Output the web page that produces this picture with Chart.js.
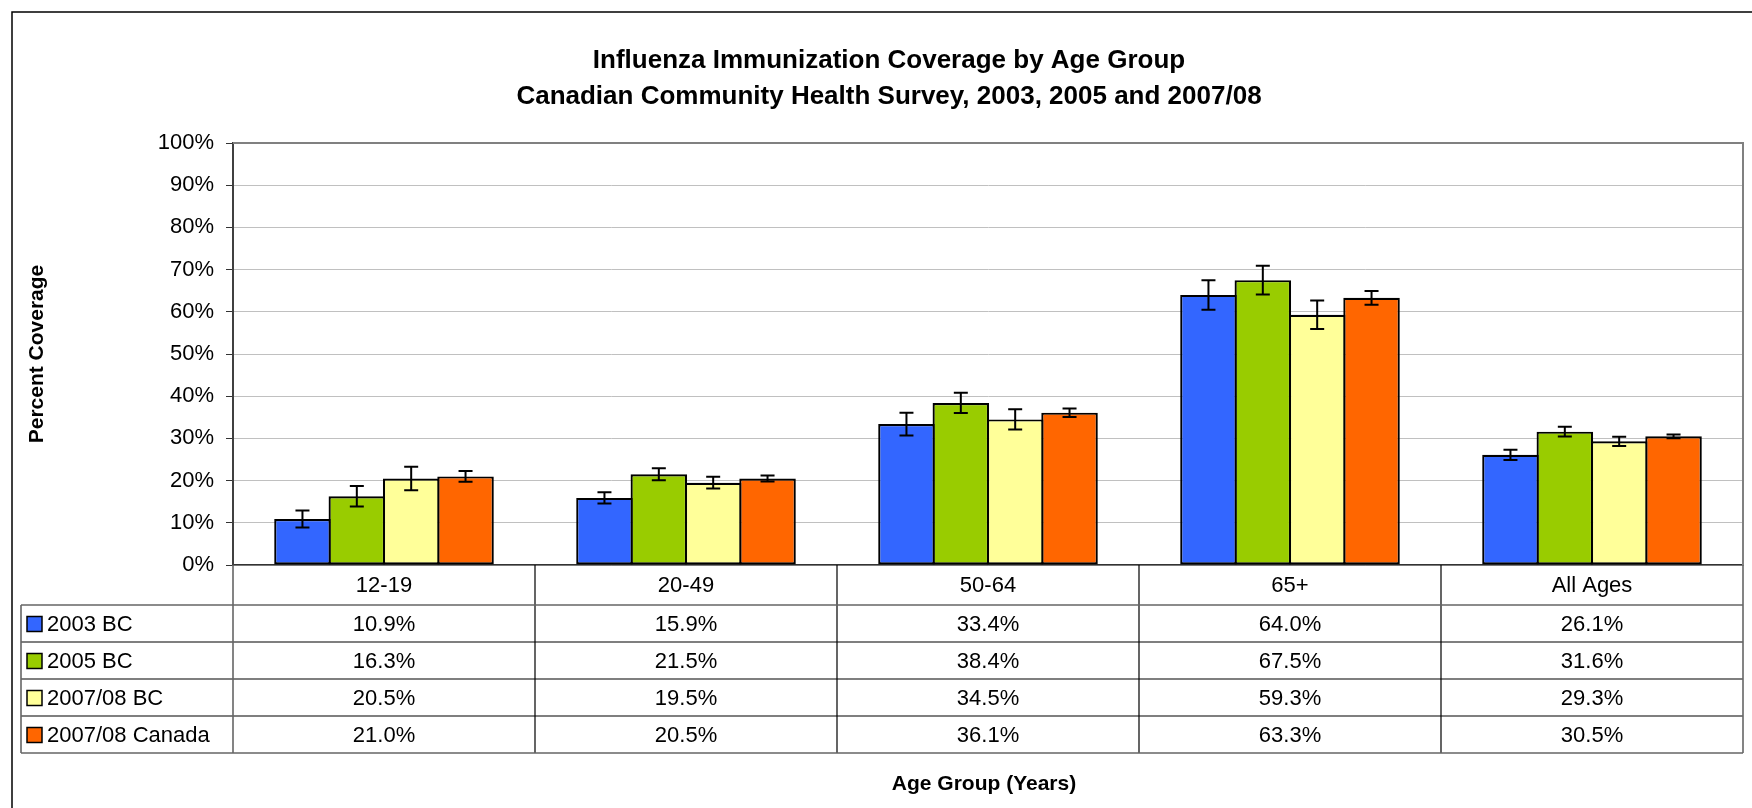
<!DOCTYPE html>
<html>
<head>
<meta charset="utf-8">
<script src="https://cdn.jsdelivr.net/npm/chart.js@4.4.1/dist/chart.umd.min.js"></script>
<style>
  html, body { margin: 0; padding: 0; background: #fff; }
  #wrap { width: 1752px; height: 808px; }
</style>
</head>
<body>
<div id="wrap"><canvas id="fluChart"></canvas></div>
<script>
const ageGroups = ['12-19', '20-49', '50-64', '65+', 'All Ages'];
const seriesNames = ['2003 BC', '2005 BC', '2007/08 BC', '2007/08 Canada'];
const coverage2003BC = [10.9, 15.9, 33.4, 64.0, 26.1];
const coverage2005BC = [16.3, 21.5, 38.4, 67.5, 31.6];
const coverage2007BC = [20.5, 19.5, 34.5, 59.3, 29.3];
const coverage2007Canada = [21.0, 20.5, 36.1, 63.3, 30.5];
// half widths of the error bars
const error2003BC = [2.0, 1.35, 2.7, 3.5, 1.2];
const error2005BC = [2.45, 1.4, 2.4, 3.4, 1.15];
const error2007BC = [2.8, 1.4, 2.4, 3.35, 1.1];
const error2007Canada = [1.3, 0.7, 1.0, 1.6, 0.45];
const seriesColors = ['#3366FF', '#99CC00', '#FFFF99', '#FF6600'];
const titleLines = ['Influenza Immunization Coverage by Age Group',
                    'Canadian Community Health Survey, 2003, 2005 and 2007/08'];

const FONT = "'Liberation Sans', Arial, sans-serif";
const values = [coverage2003BC, coverage2005BC, coverage2007BC, coverage2007Canada];
const errors = [error2003BC, error2005BC, error2007BC, error2007Canada];

const errorBars = {
    id: 'errorBars',
    afterDatasetsDraw(chart) {
        const ctx = chart.ctx;
        const y = chart.scales.y;
        ctx.save();
        ctx.strokeStyle = '#000';
        ctx.lineWidth = 2;
        chart.data.datasets.forEach((ds, d) => {
            chart.getDatasetMeta(d).data.forEach((bar, i) => {
                const top = y.getPixelForValue(ds.data[i] + ds.errors[i]);
                const bot = y.getPixelForValue(ds.data[i] - ds.errors[i]);
                ctx.beginPath();
                ctx.moveTo(bar.x, top); ctx.lineTo(bar.x, bot);
                ctx.moveTo(bar.x - 7, top); ctx.lineTo(bar.x + 7, top);
                ctx.moveTo(bar.x - 7, bot); ctx.lineTo(bar.x + 7, bot);
                ctx.stroke();
            });
        });
        ctx.restore();
    }
};

const frameAndTable = {
    id: 'frameAndTable',
    beforeDraw(chart) {
        const ctx = chart.ctx;
        ctx.save();
        ctx.fillStyle = '#fff';
        ctx.fillRect(0, 0, chart.width, chart.height);
        ctx.restore();
    },
    afterDraw(chart) {
        const ctx = chart.ctx;
        const ca = chart.chartArea;
        const n = ageGroups.length;
        const colW = (ca.right - ca.left) / n;
        ctx.save();

        // outer frame
        ctx.strokeStyle = '#000';
        ctx.lineWidth = 1.5;
        ctx.strokeRect(12, 12, 1760, 820);

        // plot area border (top and right)
        ctx.strokeStyle = '#808080';
        ctx.lineWidth = 2;
        ctx.beginPath();
        ctx.moveTo(ca.left, ca.top); ctx.lineTo(ca.right, ca.top); ctx.lineTo(ca.right, ca.bottom);
        ctx.stroke();

        // title
        ctx.fillStyle = '#000';
        ctx.textAlign = 'center';
        ctx.textBaseline = 'alphabetic';
        ctx.font = 'bold 26px ' + FONT;
        ctx.fillText(titleLines[0], 889, 68);
        ctx.fillText(titleLines[1], 889, 104);

        // data table
        const catTop = ca.bottom;
        const catBot = catTop + 40;
        const rowH = 37;
        const tableLeft = 21;
        const tableBot = catBot + rowH * seriesNames.length;

        ctx.strokeStyle = '#000';
        ctx.lineWidth = 1.2;
        ctx.beginPath();
        for (let i = 1; i < n; i++) {
            const xi = ca.left + i * colW;
            ctx.moveTo(xi, catTop); ctx.lineTo(xi, tableBot);
        }
        for (let r = 1; r < seriesNames.length; r++) {
            const yr = catBot + r * rowH;
            ctx.moveTo(tableLeft, yr); ctx.lineTo(ca.right, yr);
        }
        ctx.stroke();

        ctx.strokeStyle = '#666';
        ctx.lineWidth = 1.6;
        ctx.beginPath();
        ctx.moveTo(ca.left, catTop); ctx.lineTo(ca.left, tableBot);
        ctx.moveTo(ca.right, catTop); ctx.lineTo(ca.right, tableBot);
        ctx.moveTo(tableLeft, catBot); ctx.lineTo(ca.right, catBot);
        ctx.moveTo(tableLeft, catBot); ctx.lineTo(tableLeft, tableBot);
        ctx.moveTo(tableLeft, tableBot); ctx.lineTo(ca.right, tableBot);
        ctx.stroke();

        ctx.font = '22px ' + FONT;
        ctx.textBaseline = 'middle';
        ctx.textAlign = 'center';
        ageGroups.forEach((g, i) => {
            ctx.fillText(g, ca.left + (i + 0.5) * colW, (catTop + catBot) / 2 + 1);
        });
        chart.data.datasets.forEach((ds, r) => {
            const yc = catBot + (r + 0.5) * rowH + 1;
            ctx.textAlign = 'center';
            ds.data.forEach((v, i) => {
                ctx.fillText(v.toFixed(1) + '%', ca.left + (i + 0.5) * colW, yc);
            });
            ctx.fillStyle = ds.backgroundColor;
            ctx.fillRect(27, yc - 8, 15, 15);
            ctx.strokeStyle = '#000';
            ctx.lineWidth = 1.5;
            ctx.strokeRect(27, yc - 8, 15, 15);
            ctx.fillStyle = '#000';
            ctx.textAlign = 'left';
            ctx.fillText(ds.label, 47, yc);
        });

        // x axis title
        ctx.font = 'bold 21px ' + FONT;
        ctx.textAlign = 'center';
        ctx.fillText('Age Group (Years)', 984, 784);
        ctx.restore();
    }
};

new Chart(document.getElementById('fluChart'), {
    type: 'bar',
    data: {
        labels: ageGroups,
        datasets: seriesNames.map((name, s) => ({
            label: name,
            data: values[s],
            errors: errors[s],
            backgroundColor: seriesColors[s],
            borderColor: '#000',
            borderWidth: 2.2,
            borderSkipped: false,
            categoryPercentage: 0.72,
            barPercentage: 1.04,
        })),
    },
    options: {
        responsive: true,
        maintainAspectRatio: false,
        animation: false,
        layout: {
            padding: { top: 143, right: 9, bottom: 243, left: 0 },
        },
        scales: {
            x: {
                grid: { display: false, drawTicks: false },
                ticks: { display: false },
                border: { color: '#333', width: 1.5 },
            },
            y: {
                min: 0,
                max: 100,
                ticks: {
                    stepSize: 10,
                    padding: 12,
                    color: '#000',
                    font: { family: FONT, size: 22 },
                    callback: (v) => v + '%',
                },
                grid: { color: '#c0c0c0', lineWidth: 1, tickColor: '#333', tickLength: 7 },
                border: { color: '#404040', width: 2 },
                title: {
                    display: true,
                    text: 'Percent Coverage',
                    color: '#000',
                    font: { family: FONT, size: 21, weight: 'bold' },
                    padding: { top: 25, bottom: 0 },
                },
                afterFit(scale) { scale.width = 233; },
            },
        },
        plugins: {
            legend: { display: false },
            title: { display: false },
            tooltip: { enabled: false },
        },
    },
    plugins: [frameAndTable, errorBars],
});
</script>
</body>
</html>
